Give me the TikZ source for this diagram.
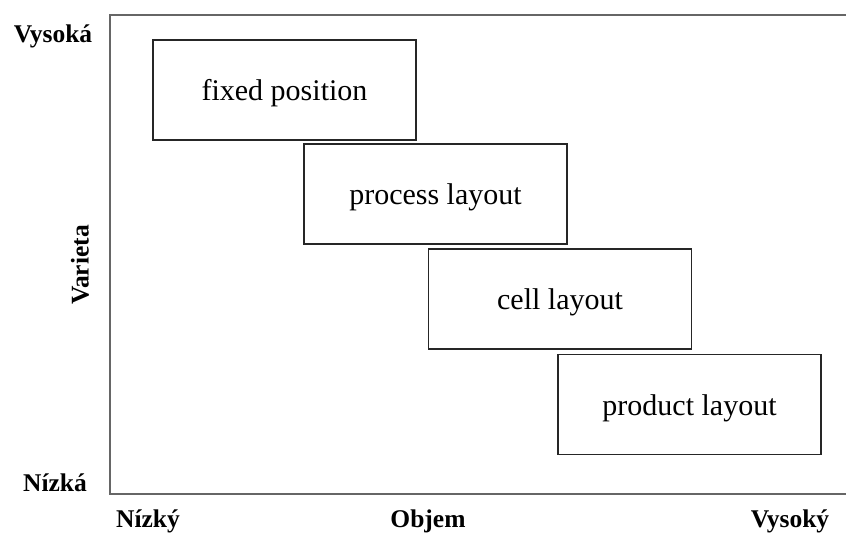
\documentclass[tikz,border=0pt]{standalone}
\usepackage{fontspec}
\setmainfont{Liberation Serif}
\begin{document}
\begin{tikzpicture}[x=1pt,y=-1pt,
  layoutbox/.style={draw=black!85,line width=1.4pt,minimum width=263pt,minimum height=100pt,inner sep=0pt,text height=21pt,text depth=0pt,font=\fontsize{30}{36}\selectfont},
  axislabel/.style={font=\fontsize{25.5}{30}\selectfont\bfseries,inner sep=0pt},
  frame/.style={draw=black!60,line width=2.2pt}]
\useasboundingbox (0,0) rectangle (846,534);
\coordinate (tl) at (110,15);
\coordinate (tr) at (846,15);
\coordinate (bl) at (110,494);
\coordinate (br) at (846,494);
\draw[frame] (tr) -- (tl) -- (bl) -- (br);
\node[layoutbox] (fp) at (284.5,90) {fixed position};
\node[layoutbox] (pl) at (435.5,194) {process layout};
\node[layoutbox] (cl) at (560,299) {cell layout};
\node[layoutbox] (prl) at (689.5,404.5) {product layout};
\node[axislabel] (vh) at (53,36) {Vysoká};
\node[axislabel] (vl) at (55,483) {Nízká};
\node[axislabel] (xl) at (148,521) {Nízký};
\node[axislabel] (xm) at (428,521) {Objem};
\node[axislabel] (xh) at (790,521) {Vysoký};
\node[axislabel,rotate=90] (yl) at (80,265) {Varieta};
\end{tikzpicture}
\end{document}
